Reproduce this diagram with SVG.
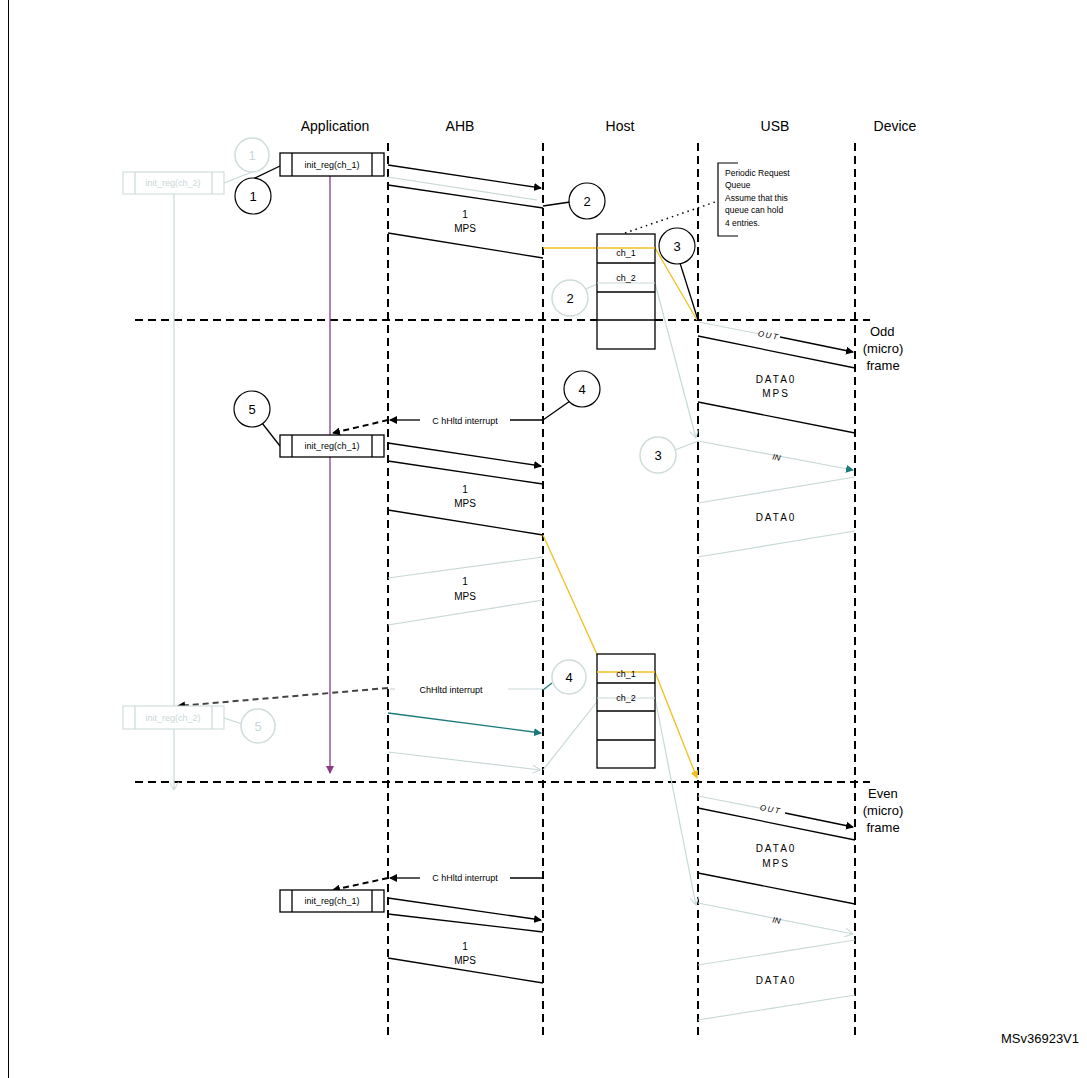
<svg xmlns="http://www.w3.org/2000/svg" width="1087" height="1078" viewBox="0 0 1087 1078">
<defs>
<marker id="ab" markerWidth="8" markerHeight="8" refX="7" refY="4" orient="auto" markerUnits="userSpaceOnUse"><path d="M0,0 L8,4 L0,8 z" fill="#000"/></marker>
<marker id="at" markerWidth="8" markerHeight="8" refX="7" refY="4" orient="auto" markerUnits="userSpaceOnUse"><path d="M0,0 L8,4 L0,8 z" fill="#1a7a7a"/></marker>
<marker id="ap" markerWidth="8" markerHeight="8" refX="7" refY="4" orient="auto" markerUnits="userSpaceOnUse"><path d="M0,0 L8,4 L0,8 z" fill="#8b3a8b"/></marker>
<marker id="ay" markerWidth="8" markerHeight="8" refX="7" refY="4" orient="auto" markerUnits="userSpaceOnUse"><path d="M0,0 L8,4 L0,8 z" fill="#f0c020"/></marker>
<marker id="ah" markerWidth="9" markerHeight="9" refX="8" refY="4.5" orient="auto" markerUnits="userSpaceOnUse"><path d="M0,0 L8,4.5 L0,9" fill="none" stroke="#c8d8d8"/></marker>
</defs>
<style>
text{font-family:"Liberation Sans",Arial,sans-serif;fill:#000}
.h{font-size:14px;text-anchor:middle}
.s{font-size:9px;text-anchor:middle}
.m{font-size:10px;text-anchor:middle}
.d{font-size:10px;text-anchor:middle;letter-spacing:2px}
.lane{stroke:#000;stroke-width:2;stroke-dasharray:8,5;fill:none}
.k{stroke:#000;stroke-width:1.3;fill:none}
.g{stroke:#c8d8d8;stroke-width:1.2;fill:none}
.gt{fill:#c8d8d8}
.c{fill:#fff;stroke:#000;stroke-width:1.2}
.cg{fill:#fff;stroke:#d0dcdc;stroke-width:1.5}
.cn{font-size:13px;text-anchor:middle}
.y{stroke:#f0c020;stroke-width:1.3;fill:none}
.t{stroke:#1a7a7a;stroke-width:1.3;fill:none}
</style>
<rect x="8.5" y="-2" width="1080" height="1090" fill="#fff" stroke="#000"/>

<g id="headers">
<text class="h" x="335" y="131">Application</text>
<text class="h" x="460" y="131">AHB</text>
<text class="h" x="620" y="131">Host</text>
<text class="h" x="775" y="131">USB</text>
<text class="h" x="895" y="131">Device</text>
<text x="870" y="336" font-size="13">Odd</text>
<text x="883" y="353" font-size="13" text-anchor="middle">(micro)</text>
<text x="883" y="370" font-size="13" text-anchor="middle">frame</text>
<text x="868" y="798" font-size="13">Even</text>
<text x="883" y="815" font-size="13" text-anchor="middle">(micro)</text>
<text x="883" y="832" font-size="13" text-anchor="middle">frame</text>
<text x="1040" y="1043" font-size="13" text-anchor="middle">MSv36923V1</text>
</g>

<g id="lanes">
<line class="lane" x1="388" y1="143" x2="388" y2="1040"/>
<line class="lane" x1="543" y1="143" x2="543" y2="1040"/>
<line class="lane" x1="698" y1="143" x2="698" y2="1040"/>
<line class="lane" x1="855" y1="143" x2="855" y2="1040"/>
<line class="lane" x1="135" y1="320" x2="870" y2="320"/>
<line class="lane" x1="135" y1="782" x2="870" y2="782"/>
</g>

<g id="connectors">
<!-- ghost ch_2 lifeline -->
<line class="g" x1="174" y1="194" x2="174" y2="790" marker-end="url(#ah)"/>
<line class="g" x1="252" y1="172" x2="224" y2="183"/>
<!-- purple lifeline -->
<line x1="330" y1="176" x2="330" y2="773" stroke="#8b3a8b" stroke-width="1.3" marker-end="url(#ap)"/>
<line class="k" x1="253" y1="179" x2="280" y2="166"/>
<!-- first AHB -->
<line class="k" x1="388" y1="165" x2="541" y2="188" marker-end="url(#ab)"/>
<line class="g" x1="388" y1="177" x2="537" y2="200"/>
<line class="k" x1="388" y1="185" x2="543" y2="208"/>
<line class="k" x1="543" y1="206" x2="570" y2="202"/>
<line class="k" x1="388" y1="233" x2="543" y2="258"/>
<!-- yellow 1 -->
<polyline class="y" points="543,248 655,248 697,320"/>
<line class="k" x1="680" y1="263" x2="698" y2="320"/>
<line x1="625" y1="233" x2="718" y2="201" stroke="#000" stroke-width="1.5" stroke-dasharray="1.5,4"/>
<!-- ghost ch_2 -->
<line class="g" x1="583" y1="290" x2="600" y2="283"/>
<polyline class="g" points="597,283 655,283 696,438" marker-end="url(#ah)"/>
<!-- USB odd -->
<line class="g" x1="698" y1="322" x2="760" y2="334"/>
<line class="k" x1="780" y1="337" x2="853" y2="352" marker-end="url(#ab)"/>
<line class="k" x1="698" y1="336" x2="855" y2="368"/>
<line class="k" x1="698" y1="402" x2="855" y2="433"/>
<!-- interrupt 1 -->
<line class="k" x1="570" y1="401" x2="543" y2="420"/>
<line class="k" x1="510" y1="420" x2="543" y2="420"/>
<line class="k" x1="420" y1="420" x2="390" y2="420" marker-end="url(#ab)"/>
<line x1="388" y1="420" x2="333" y2="433" stroke="#000" stroke-width="2" stroke-dasharray="6,4" marker-end="url(#ab)"/>
<line class="k" x1="262" y1="423" x2="280" y2="446"/>
<!-- second AHB -->
<line class="k" x1="388" y1="443" x2="541" y2="466" marker-end="url(#ab)"/>
<line class="k" x1="388" y1="461" x2="543" y2="484"/>
<line class="k" x1="388" y1="510" x2="543" y2="535"/>
<polyline class="y" points="543,535 605,672 655,672 697,778" marker-end="url(#ay)"/>
<!-- ghost IN -->
<line class="g" x1="675" y1="450" x2="698" y2="441"/>
<line class="g" x1="698" y1="441" x2="853" y2="470" marker-end="url(#at)"/>
<line class="g" x1="698" y1="503" x2="855" y2="477"/>
<line class="g" x1="698" y1="557" x2="855" y2="531"/>
<line class="g" x1="388" y1="578" x2="543" y2="557"/>
<line class="g" x1="388" y1="625" x2="543" y2="600"/>
<!-- interrupt 2 -->
<line class="t" x1="552" y1="683" x2="543" y2="690"/>
<line class="g" x1="543" y1="689" x2="508" y2="689"/>
<line class="g" x1="395" y1="689" x2="390" y2="689"/>
<line x1="388" y1="688" x2="178" y2="706" stroke="#444" stroke-width="2" stroke-dasharray="6,4" marker-end="url(#ab)"/>
<line class="g" x1="224" y1="718" x2="242" y2="724"/>
<line class="t" x1="388" y1="713" x2="541" y2="733" marker-end="url(#at)"/>
<line class="g" x1="388" y1="752" x2="540" y2="770" marker-end="url(#ah)"/>
<line class="g" x1="543" y1="770" x2="600" y2="698"/>
<polyline class="g" points="600,698 655,698 696,905" marker-end="url(#ah)"/>
<!-- USB even -->
<line class="g" x1="698" y1="796" x2="765" y2="809"/>
<line class="k" x1="785" y1="813" x2="853" y2="827" marker-end="url(#ab)"/>
<line class="k" x1="698" y1="808" x2="855" y2="840"/>
<line class="k" x1="698" y1="873" x2="855" y2="904"/>
<line class="g" x1="698" y1="903" x2="853" y2="934" marker-end="url(#ah)"/>
<line class="g" x1="698" y1="965" x2="855" y2="940"/>
<line class="g" x1="698" y1="1020" x2="855" y2="995"/>
<!-- interrupt 3 -->
<line class="k" x1="510" y1="878" x2="543" y2="878"/>
<line class="k" x1="420" y1="878" x2="390" y2="878" marker-end="url(#ab)"/>
<line x1="388" y1="878" x2="333" y2="890" stroke="#000" stroke-width="2" stroke-dasharray="6,4" marker-end="url(#ab)"/>
<line class="k" x1="388" y1="898" x2="541" y2="920" marker-end="url(#ab)"/>
<line class="k" x1="388" y1="914" x2="543" y2="932"/>
<line class="k" x1="388" y1="958" x2="543" y2="983"/>
</g>

<g id="ghost-box-1">
<rect x="123" y="172" width="101" height="22" fill="#fff" stroke="#c8d8d8"/>
<line class="g" x1="135" y1="172" x2="135" y2="194"/><line class="g" x1="212" y1="172" x2="212" y2="194"/>
<text class="s gt" x="173" y="186">init_reg(ch_2)</text>
</g>
<g id="ghost-circle-1"><circle class="cg" cx="252" cy="155" r="17"/><text class="cn gt" x="252" y="160">1</text></g>
<g id="box-1">
<rect x="280" y="153" width="104" height="23" fill="#fff" stroke="#000" stroke-width="1.3"/>
<line class="k" x1="292" y1="153" x2="292" y2="176"/><line class="k" x1="372" y1="153" x2="372" y2="176"/>
<text class="s" x="332" y="168">init_reg(ch_1)</text>
</g>
<g id="circle-1"><circle class="c" cx="253" cy="196" r="18"/><text class="cn" x="253" y="201">1</text></g>
<g id="circle-2"><circle class="c" cx="587" cy="201" r="18"/><text class="cn" x="587" y="206">2</text></g>
<g id="mps-1"><text class="m" x="465" y="218">1</text><text class="m" x="465" y="232">MPS</text></g>

<g id="queue-1">
<rect x="597" y="234" width="58" height="115" fill="#fff" stroke="#000" stroke-width="1.3"/>
<line class="k" x1="597" y1="263" x2="655" y2="263"/><line class="k" x1="597" y1="292" x2="655" y2="292"/><line class="k" x1="597" y1="320" x2="655" y2="320"/>
<line class="y" x1="597" y1="248" x2="655" y2="248"/>
<line class="g" x1="597" y1="283" x2="655" y2="283"/>
<text class="s" x="626" y="256">ch_1</text><text class="s" x="626" y="281">ch_2</text>
</g>
<g id="circle-3"><circle class="c" cx="677" cy="246" r="18"/><text class="cn" x="677" y="251">3</text></g>
<g id="ghost-circle-2"><circle class="cg" cx="570" cy="298" r="18"/><text class="cn" x="570" y="303">2</text></g>
<g id="callout">
<path d="M738,163 H718 V236 H738" fill="none" stroke="#000" stroke-width="1.2"/>
<text x="725" y="176" font-size="8.5">Periodic Request</text>
<text x="725" y="188" font-size="8.5">Queue</text>
<text x="725" y="201" font-size="8.5">Assume that this</text>
<text x="725" y="213" font-size="8.5">queue can hold</text>
<text x="725" y="226" font-size="8.5">4 entries.</text>
</g>
<g id="out-1"><text x="768" y="338" font-size="8" font-style="italic" text-anchor="middle" letter-spacing="1.5" transform="rotate(11 768 338)">OUT</text></g>
<g id="data-1"><text class="d" x="776" y="383">DATA0</text><text class="d" x="776" y="397">MPS</text></g>
<g id="circle-4"><circle class="c" cx="582" cy="389" r="18"/><text class="cn" x="582" y="394">4</text></g>
<g id="int-1"><text x="465" y="424" font-size="9" text-anchor="middle">C hHltd interrupt</text></g>
<g id="circle-5"><circle class="c" cx="252" cy="409" r="18"/><text class="cn" x="252" y="414">5</text></g>
<g id="box-2">
<rect x="280" y="435" width="104" height="22" fill="#fff" stroke="#000" stroke-width="1.3"/>
<line class="k" x1="292" y1="435" x2="292" y2="457"/><line class="k" x1="372" y1="435" x2="372" y2="457"/>
<text class="s" x="332" y="449">init_reg(ch_1)</text>
</g>
<g id="mps-2"><text class="m" x="465" y="493">1</text><text class="m" x="465" y="507">MPS</text></g>
<g id="ghost-circle-3"><circle class="cg" cx="658" cy="455" r="18"/><text class="cn" x="658" y="460">3</text></g>
<g id="in-1"><text x="776" y="460" font-size="8" font-style="italic" text-anchor="middle" transform="rotate(11 776 460)">IN</text></g>
<g id="data-2"><text class="d" x="776" y="521">DATA0</text></g>
<g id="mps-ghost"><text class="m" x="465" y="585">1</text><text class="m" x="465" y="600">MPS</text></g>

<g id="queue-2">
<rect x="597" y="654" width="58" height="114" fill="#fff" stroke="#000" stroke-width="1.3"/>
<line class="k" x1="597" y1="683" x2="655" y2="683"/><line class="k" x1="597" y1="711" x2="655" y2="711"/><line class="k" x1="597" y1="740" x2="655" y2="740"/>
<line class="y" x1="597" y1="672" x2="655" y2="672"/>
<line class="g" x1="597" y1="698" x2="655" y2="698"/>
<text class="s" x="626" y="677">ch_1</text><text class="s" x="626" y="701">ch_2</text>
</g>
<g id="circle-4b"><circle fill="#fff" stroke="#d0dcdc" stroke-width="1.5" cx="569" cy="677" r="17"/><text class="cn" x="569" y="682">4</text></g>
<g id="int-2"><text x="451" y="693" font-size="9" text-anchor="middle">ChHltd interrupt</text></g>
<g id="ghost-box-2">
<rect x="123" y="706" width="101" height="23" fill="#fff" stroke="#c8d8d8"/>
<line class="g" x1="135" y1="706" x2="135" y2="729"/><line class="g" x1="212" y1="706" x2="212" y2="729"/>
<text class="s gt" x="173" y="721">init_reg(ch_2)</text>
</g>
<g id="ghost-circle-5"><circle class="cg" cx="258" cy="726" r="17"/><text class="cn gt" x="258" y="731">5</text></g>

<g id="out-2"><text x="770" y="812" font-size="8" font-style="italic" text-anchor="middle" letter-spacing="1.5" transform="rotate(11 770 812)">OUT</text></g>
<g id="data-3"><text class="d" x="776" y="852">DATA0</text><text class="d" x="776" y="867">MPS</text></g>
<g id="in-2"><text x="776" y="923" font-size="8" font-style="italic" text-anchor="middle" transform="rotate(11 776 923)">IN</text></g>
<g id="data-4"><text class="d" x="776" y="984">DATA0</text></g>
<g id="int-3"><text x="465" y="881" font-size="9" text-anchor="middle">C hHltd interrupt</text></g>
<g id="box-3">
<rect x="280" y="890" width="104" height="22" fill="#fff" stroke="#000" stroke-width="1.3"/>
<line class="k" x1="292" y1="890" x2="292" y2="912"/><line class="k" x1="372" y1="890" x2="372" y2="912"/>
<text class="s" x="332" y="904">init_reg(ch_1)</text>
</g>
<g id="mps-3"><text class="m" x="465" y="950">1</text><text class="m" x="465" y="964">MPS</text></g>
</svg>
